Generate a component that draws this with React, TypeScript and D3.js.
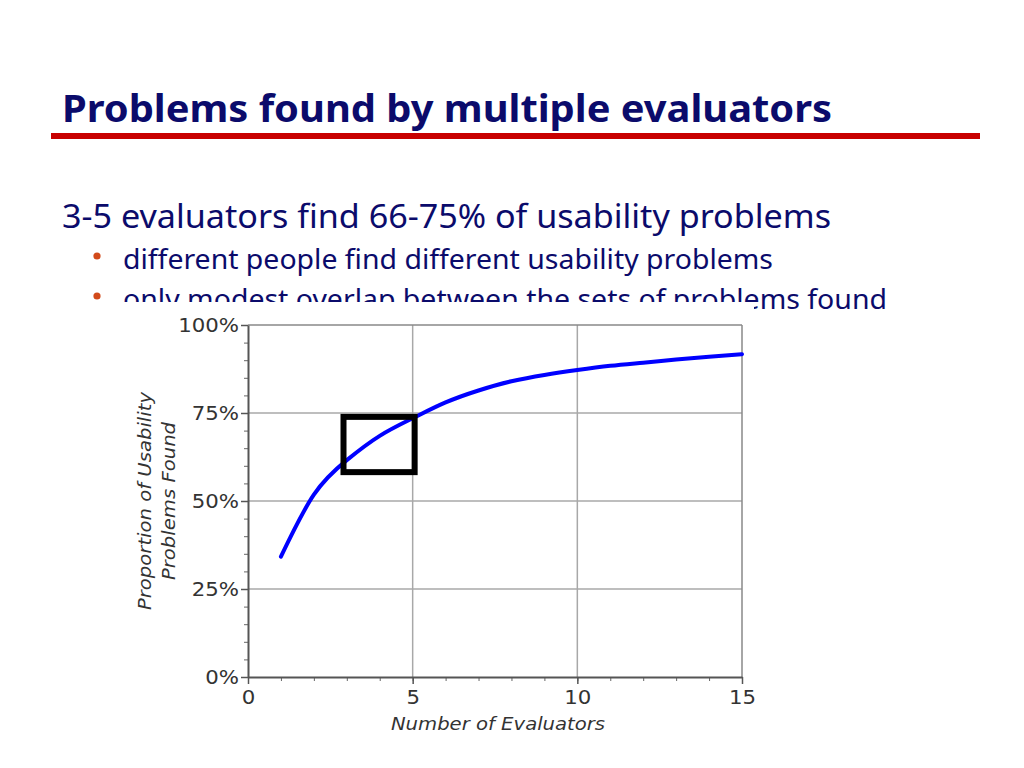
import { useRef, useEffect } from 'react'
import * as d3 from 'd3'

// Nielsen-style curve: share of usability problems found vs. number of evaluators
const evaluators = [1, 2, 3, 4, 5, 6, 7, 8, 9, 10, 11, 12, 13, 14, 15]
const proportionFound = [34.2, 51.8, 61.6, 68.5, 73.5, 78.0, 81.4, 84.0, 85.8, 87.2, 88.4, 89.3, 90.2, 91.0, 91.7]

const xTicks = [0, 5, 10, 15]
const yTicks = [0, 25, 50, 75, 100]
const xGrid = [5, 10]
const yGrid = [25, 50, 75]

// highlighted "3-5 evaluators" box (x from, x to, % from, % to)
const boxX = [2.9, 5.06]
const boxY = [58.2, 73.9]

const title = 'Problems found by multiple evaluators'
const subtitle = '3-5 evaluators find 66-75% of usability problems'
const bullets = [
  'different people find different usability problems',
  'only modest overlap between the sets of problems found',
]

const NAVY = '#0b0b6b'
const AXIS_FONT = '"DejaVu Sans", Verdana, sans-serif'

// the chart graphic in the slide is a little wider than its font
function stretch(sel: d3.Selection<any, any, any, any>, k: number) {
  sel.each(function () {
    const el = this as SVGTextElement
    const w = el.getComputedTextLength()
    d3.select(el).attr('textLength', w * k).attr('lengthAdjust', 'spacingAndGlyphs')
  })
}

export default function App() {
  const svgRef = useRef<SVGSVGElement>(null)

  useEffect(() => {
    if (!svgRef.current) return
    const svg = d3.select(svgRef.current)
    svg.selectAll('*').remove()

    svg.append('rect').attr('width', 1024).attr('height', 768).attr('fill', '#fff')

    // slide header
    svg.append('text')
      .attr('x', 62).attr('y', 122)
      .attr('textLength', 770).attr('lengthAdjust', 'spacingAndGlyphs')
      .style('font-family', '"Noto Sans", "Open Sans", sans-serif')
      .style('font-weight', 700).style('font-size', '37px')
      .attr('fill', NAVY)
      .text(title)

    svg.append('rect')
      .attr('x', 51).attr('y', 133)
      .attr('width', 929).attr('height', 6)
      .attr('fill', '#c80000')

    svg.append('text')
      .attr('x', 62).attr('y', 228)
      .attr('textLength', 769).attr('lengthAdjust', 'spacingAndGlyphs')
      .style('font-family', '"Noto Sans", "Open Sans", sans-serif')
      .style('font-size', '32px')
      .attr('fill', NAVY)
      .text(subtitle)

    const bulletY = [269, 309]
    const bulletLen = [650, 764]
    bullets.forEach((b, i) => {
      svg.append('circle')
        .attr('cx', 97).attr('cy', bulletY[i] - 13).attr('r', 3.6)
        .attr('fill', '#d24a1a')
      svg.append('text')
        .attr('x', 123).attr('y', bulletY[i])
        .attr('textLength', bulletLen[i]).attr('lengthAdjust', 'spacingAndGlyphs')
        .style('font-family', '"Noto Sans", "Open Sans", sans-serif')
        .style('font-size', '27px')
        .attr('fill', NAVY)
        .text(b)
    })

    // the chart image sits on top of the last bullet line
    svg.append('rect')
      .attr('x', 110).attr('y', 302)
      .attr('width', 644).attr('height', 446)
      .attr('fill', '#fff')

    const x = d3.scaleLinear().domain([0, 15]).range([248, 742])
    const y = d3.scaleLinear().domain([0, 100]).range([677, 325])

    const g = svg.append('g')

    // grid
    g.selectAll('.vgrid')
      .data(xGrid)
      .join('line')
      .attr('x1', d => x(d)).attr('x2', d => x(d))
      .attr('y1', y(0)).attr('y2', y(100))
      .attr('stroke', '#a8a8a8').attr('stroke-width', 1.5)
    g.selectAll('.hgrid')
      .data(yGrid)
      .join('line')
      .attr('x1', x(0)).attr('x2', x(15))
      .attr('y1', d => y(d)).attr('y2', d => y(d))
      .attr('stroke', '#a8a8a8').attr('stroke-width', 1.5)

    // frame top / right
    g.append('line')
      .attr('x1', x(0)).attr('x2', x(15)).attr('y1', y(100)).attr('y2', y(100))
      .attr('stroke', '#888').attr('stroke-width', 1.5)
    g.append('line')
      .attr('x1', x(15)).attr('x2', x(15)).attr('y1', y(0)).attr('y2', y(100))
      .attr('stroke', '#888').attr('stroke-width', 1.5)

    // minor ticks
    g.append('g')
      .attr('transform', `translate(0,${y(0)})`)
      .call(d3.axisBottom(x).tickValues(d3.range(0, 16)).tickSize(4).tickFormat(() => ''))
      .call(a => a.select('.domain').remove())
      .selectAll('line').attr('stroke', '#666')
    g.append('g')
      .attr('transform', `translate(${x(0)},0)`)
      .call(d3.axisLeft(y).tickValues(d3.range(0, 101, 5)).tickSize(4).tickFormat(() => ''))
      .call(a => a.select('.domain').remove())
      .selectAll('line').attr('stroke', '#666')

    // main axes
    const xAxis = g.append('g')
      .attr('transform', `translate(0,${y(0)})`)
      .call(d3.axisBottom(x).tickValues(xTicks).tickSize(7).tickSizeOuter(0).tickPadding(7).tickFormat(d => String(d)))
    const yAxis = g.append('g')
      .attr('transform', `translate(${x(0)},0)`)
      .call(d3.axisLeft(y).tickValues(yTicks).tickSize(7).tickSizeOuter(0).tickPadding(2).tickFormat(d => `${d}%`))
    ;[xAxis, yAxis].forEach(a => {
      a.select('.domain').attr('stroke', '#555').attr('stroke-width', 2)
      a.selectAll('.tick line').attr('stroke', '#555').attr('stroke-width', 1.5)
      const t = a.selectAll('text')
        .style('font-family', AXIS_FONT).style('font-size', '19px')
        .attr('fill', '#333')
      stretch(t, 1.12)
    })

    // axis titles
    const xTitle = g.append('text')
      .attr('x', x(7.5) + 3).attr('y', 730)
      .attr('text-anchor', 'middle')
      .style('font-family', AXIS_FONT).style('font-size', '18px').style('font-style', 'italic')
      .attr('fill', '#333')
      .text('Number of Evaluators')
    stretch(xTitle, 1.09)

    const yMid = y(50)
    ;[['Proportion of Usability', 151], ['Problems Found', 175]].forEach(([t, bx]) => {
      const yt = g.append('text')
        .attr('transform', `translate(${bx},${yMid}) rotate(-90)`)
        .attr('text-anchor', 'middle')
        .style('font-family', AXIS_FONT).style('font-size', '18px').style('font-style', 'italic')
        .attr('fill', '#333')
        .text(t as string)
      stretch(yt, 1.09)
    })

    // curve
    const line = d3.line<number>()
      .x((_, i) => x(evaluators[i]))
      .y(d => y(d))
      .curve(d3.curveNatural)

    g.append('path')
      .datum(proportionFound)
      .attr('fill', 'none')
      .attr('stroke', '#0000ff')
      .attr('stroke-width', 4)
      .attr('stroke-linecap', 'round')
      .attr('d', line)

    // highlight box
    g.append('rect')
      .attr('x', x(boxX[0])).attr('y', y(boxY[1]))
      .attr('width', x(boxX[1]) - x(boxX[0]))
      .attr('height', y(boxY[0]) - y(boxY[1]))
      .attr('fill', 'none')
      .attr('stroke', '#000')
      .attr('stroke-width', 6)
  }, [])

  return (
    <div style={{ position: 'absolute', left: 0, top: 0, width: 1024, height: 768, overflow: 'hidden' }}>
      <svg ref={svgRef} width={1024} height={768} style={{ display: 'block' }} />
    </div>
  )
}
